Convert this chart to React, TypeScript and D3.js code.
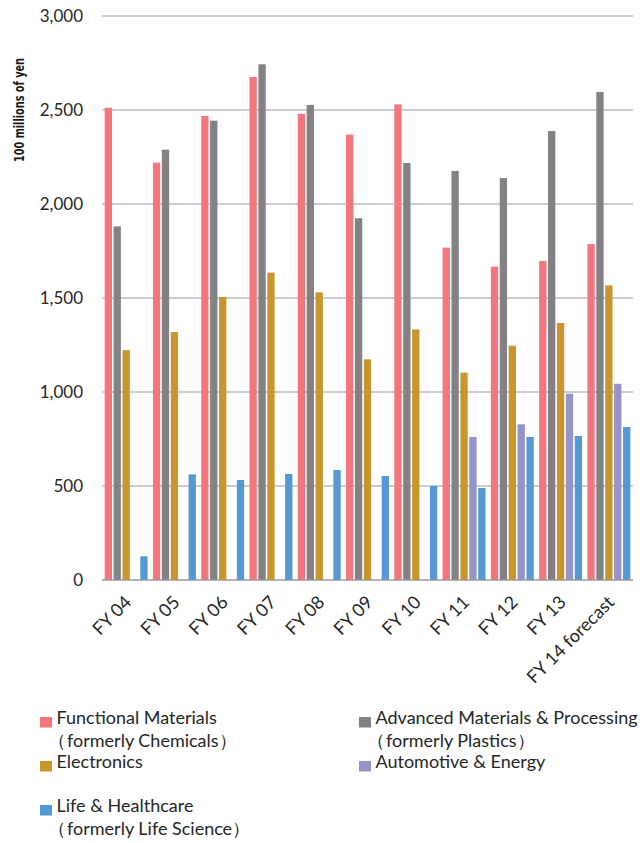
import * as d3 from "d3";
import { useRef, useEffect } from "react";

// fiscal years on the x axis
const years = [
  "FY 04",
  "FY 05",
  "FY 06",
  "FY 07",
  "FY 08",
  "FY 09",
  "FY 10",
  "FY 11",
  "FY 12",
  "FY 13",
  "FY 14 forecast",
];

// segment sales, 100 millions of yen
const functionalMaterials = [2512, 2220, 2468, 2676, 2480, 2369, 2530, 1768, 1667, 1697, 1787];
const advancedMaterials = [1881, 2289, 2443, 2743, 2527, 1924, 2218, 2176, 2138, 2388, 2596];
const electronics = [1223, 1319, 1505, 1635, 1530, 1174, 1333, 1103, 1246, 1367, 1567];
const automotive = [0, 0, 0, 0, 0, 0, 0, 761, 828, 991, 1044];
const lifeHealthcare = [126, 562, 532, 564, 585, 553, 500, 489, 761, 766, 814];

const yTicks = [0, 500, 1000, 1500, 2000, 2500, 3000];

const series = [
  { key: "fm", values: functionalMaterials, color: "#f2767c", lines: ["Functional Materials", "（formerly Chemicals）"] },
  { key: "am", values: advancedMaterials, color: "#828286", lines: ["Advanced Materials & Processing", "（formerly Plastics）"] },
  { key: "el", values: electronics, color: "#c8962d", lines: ["Electronics"] },
  { key: "ae", values: automotive, color: "#9494c8", lines: ["Automotive & Energy"] },
  { key: "lh", values: lifeHealthcare, color: "#5498d4", lines: ["Life & Healthcare", "（formerly Life Science）"] },
];

const FONT = "Lato, 'Noto Sans', sans-serif";
const TEXT = "#262626";

export default function App() {
  const ref = useRef<SVGSVGElement | null>(null);
  const width = 640;
  const height = 843;

  useEffect(() => {
    const left = 102;
    const right = 633;
    const top = 16;
    const bottom = 580;

    const x0 = d3.scaleBand<string>().domain(years).range([left, right]);
    const x1 = d3
      .scaleBand<string>()
      .domain(series.map((s) => s.key))
      .range([0, x0.bandwidth()])
      .paddingInner(0.18)
      .paddingOuter(0.3);
    const y = d3.scaleLinear().domain([0, 3000]).range([bottom, top]);

    const svg = d3.select(ref.current);

    // gridlines + y labels
    const grid = svg.append("g");
    grid
      .selectAll("line")
      .data(yTicks)
      .join("line")
      .attr("x1", left)
      .attr("x2", right)
      .attr("y1", (d) => y(d))
      .attr("y2", (d) => y(d))
      .attr("stroke", "#9a9a9a")
      .attr("stroke-width", 1.2);
    grid
      .selectAll("text")
      .data(yTicks)
      .join("text")
      .attr("x", 83)
      .attr("y", (d) => y(d))
      .attr("dy", "0.35em")
      .attr("text-anchor", "end")
      .attr("font-family", FONT)
      .attr("font-size", 17)
      .attr("fill", TEXT)
      .text((d) => d3.format(",")(d));

    svg
      .append("text")
      .attr("transform", "translate(24,110) rotate(-90)")
      .attr("text-anchor", "middle")
      .attr("font-family", "'DejaVu Sans Condensed', 'DejaVu Sans', sans-serif")
      .attr("font-weight", "bold")
      .attr("font-size", 14)
      .attr("textLength", 104)
      .attr("lengthAdjust", "spacingAndGlyphs")
      .attr("fill", "#1a1a1a")
      .text("100 millions of yen");

    // bars
    svg
      .append("g")
      .selectAll("g")
      .data(years)
      .join("g")
      .attr("transform", (d) => `translate(${x0(d)},0)`)
      .selectAll("rect")
      .data((_, i) => series.map((s) => ({ key: s.key, color: s.color, v: s.values[i] })))
      .join("rect")
      .attr("x", (d) => x1(d.key) ?? 0)
      .attr("width", x1.bandwidth())
      .attr("y", (d) => y(d.v))
      .attr("height", (d) => y(0) - y(d.v))
      .attr("fill", (d) => d.color);

    // baseline on top of bars
    svg
      .append("line")
      .attr("x1", left)
      .attr("x2", right)
      .attr("y1", y(0))
      .attr("y2", y(0))
      .attr("stroke", "#9a9a9a")
      .attr("stroke-width", 1.2);

    // rotated year labels
    svg
      .append("g")
      .selectAll("text")
      .data(years)
      .join("text")
      .attr("transform", (d) => `translate(${(x0(d) ?? 0) + x0.bandwidth() / 2 + 2},599) rotate(-45)`)
      .attr("dy", "0.35em")
      .attr("text-anchor", "end")
      .attr("font-family", FONT)
      .attr("font-size", 18)
      .attr("fill", TEXT)
      .text((d) => d);

    // legend, two columns
    const colX = [40, 359];
    const rowY = 717;
    const rowH = 44;
    const item = svg
      .append("g")
      .selectAll("g")
      .data(series)
      .join("g")
      .attr("transform", (_, i) => `translate(${colX[i % 2]},${rowY + Math.floor(i / 2) * rowH})`);
    item
      .append("rect")
      .attr("width", 12)
      .attr("height", 10.5)
      .attr("fill", (d) => d.color);
    const label = item
      .selectAll("text")
      .data((d) => d.lines)
      .join("text")
      .attr("x", 16.5)
      .attr("y", (_, j) => 6.5 + j * 23.5)
      .attr("font-family", FONT)
      .attr("font-size", 18)
      .attr("fill", TEXT);
    // full-width paren sits to the left of its box in the original
    label.each(function (d) {
      const t = d3.select(this);
      if (d.startsWith("（")) {
        t.append("tspan").attr("dx", -9).text("（");
        t.append("tspan").attr("dx", 1.5).text(d.slice(1));
      } else {
        t.text(d);
      }
    });

    return () => {
      while (ref.current?.lastChild) ref.current.removeChild(ref.current.lastChild);
    };
  }, []);

  return (
    <svg
      ref={ref}
      width={width}
      height={height}
      style={{ position: "absolute", left: 0, top: 0, background: "#fff" }}
    />
  );
}
